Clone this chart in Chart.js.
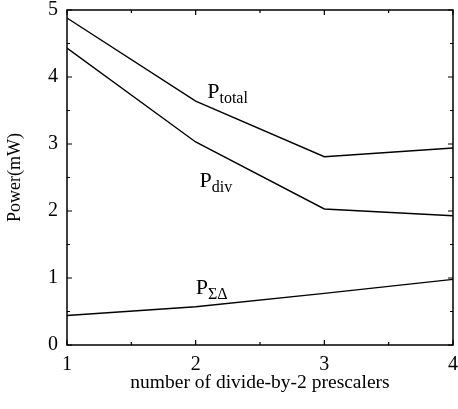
<!DOCTYPE html>
<html>
<head>
<meta charset="utf-8">
<script src="https://cdn.jsdelivr.net/npm/chart.js@4"></script>
<style>
  html, body { margin: 0; padding: 0; background: #fff; }
  #wrap { width: 458px; height: 409px; }
</style>
</head>
<body>
<div id="wrap"><canvas id="c"></canvas></div>
<script>
// number of prescalers on x, power in mW on y
const prescalers = [1, 2, 3, 4];
const pTotal = [4.88, 3.64, 2.81, 2.94];
const pDiv = [4.43, 3.03, 2.03, 1.93];
const pSigmaDelta = [0.44, 0.57, 0.77, 0.98];

// curve labels: main letter, subscript, anchor in data units
const labelMain = ['P', 'P', 'P'];
const labelSub = ['total', 'div', 'ΣΔ'];
const labelX = [2.09, 2.03, 2.0];
const labelY = [3.68, 2.36, 0.76];

const serif = "'Liberation Serif', 'Times New Roman', serif";

const toPoints = ys => prescalers.map((x, i) => ({ x: x, y: ys[i] }));

// frame with inward ticks on all four sides
const framePlugin = {
  id: 'frame',
  afterDraw(chart) {
    const ctx = chart.ctx;
    const a = chart.chartArea;
    const xs = chart.scales.x, ys = chart.scales.y;
    ctx.save();
    ctx.strokeStyle = '#000';
    ctx.lineWidth = 1.5;
    ctx.strokeRect(a.left, a.top, a.right - a.left, a.bottom - a.top);
    ctx.lineWidth = 1.2;
    ctx.beginPath();
    for (let v = 1; v <= 4.001; v += 0.5) {
      const len = Number.isInteger(v) ? 5 : 3;
      const px = xs.getPixelForValue(v);
      ctx.moveTo(px, a.bottom); ctx.lineTo(px, a.bottom - len);
      ctx.moveTo(px, a.top); ctx.lineTo(px, a.top + len);
    }
    for (let v = 0; v <= 5.001; v += 0.5) {
      const len = Number.isInteger(v) ? 5 : 3;
      const py = ys.getPixelForValue(v);
      ctx.moveTo(a.left, py); ctx.lineTo(a.left + len, py);
      ctx.moveTo(a.right, py); ctx.lineTo(a.right - len, py);
    }
    ctx.stroke();

    // P labels with subscripts
    ctx.fillStyle = '#000';
    ctx.textBaseline = 'alphabetic';
    ctx.textAlign = 'left';
    for (let i = 0; i < labelMain.length; i++) {
      const px = xs.getPixelForValue(labelX[i]);
      const py = ys.getPixelForValue(labelY[i]);
      ctx.font = '22px ' + serif;
      ctx.fillText(labelMain[i], px, py);
      const w = ctx.measureText(labelMain[i]).width;
      ctx.font = '16px ' + serif;
      ctx.fillText(labelSub[i], px + w, py + 5);
    }
    ctx.restore();
  }
};

const lineStyle = { borderColor: '#000', borderWidth: 1.4, pointRadius: 0, fill: false, tension: 0 };

new Chart(document.getElementById('c'), {
  type: 'line',
  data: {
    datasets: [
      Object.assign({ label: 'Ptotal', data: toPoints(pTotal) }, lineStyle),
      Object.assign({ label: 'Pdiv', data: toPoints(pDiv) }, lineStyle),
      Object.assign({ label: 'PΣΔ', data: toPoints(pSigmaDelta) }, lineStyle)
    ]
  },
  options: {
    responsive: true,
    maintainAspectRatio: false,
    animation: false,
    layout: { padding: { top: 10, right: 5, left: 0, bottom: 0 } },
    plugins: { legend: { display: false }, tooltip: { enabled: false } },
    scales: {
      x: {
        type: 'linear', min: 1, max: 4,
        grid: { display: false, drawTicks: false },
        border: { display: false },
        ticks: { stepSize: 1, color: '#000', padding: 8, font: { family: serif, size: 20 } },
        title: { display: true, text: 'number of divide-by-2 prescalers', color: '#000',
                 font: { family: serif, size: 19.5 }, padding: { top: 0, bottom: 14 } },
        afterFit(s) { s.height = 64; s.paddingLeft = 0; s.paddingRight = 0; }
      },
      y: {
        min: 0, max: 5,
        grid: { display: false, drawTicks: false },
        border: { display: false },
        ticks: { stepSize: 1, color: '#000', padding: 9, font: { family: serif, size: 20 } },
        title: { display: true, text: 'Power(mW)', color: '#000',
                 font: { family: serif, size: 18 }, padding: { top: 4, bottom: 0 } },
        afterFit(s) { s.width = 67; s.paddingTop = 0; s.paddingBottom = 0; }
      }
    }
  },
  plugins: [framePlugin]
});
</script>
</body>
</html>
